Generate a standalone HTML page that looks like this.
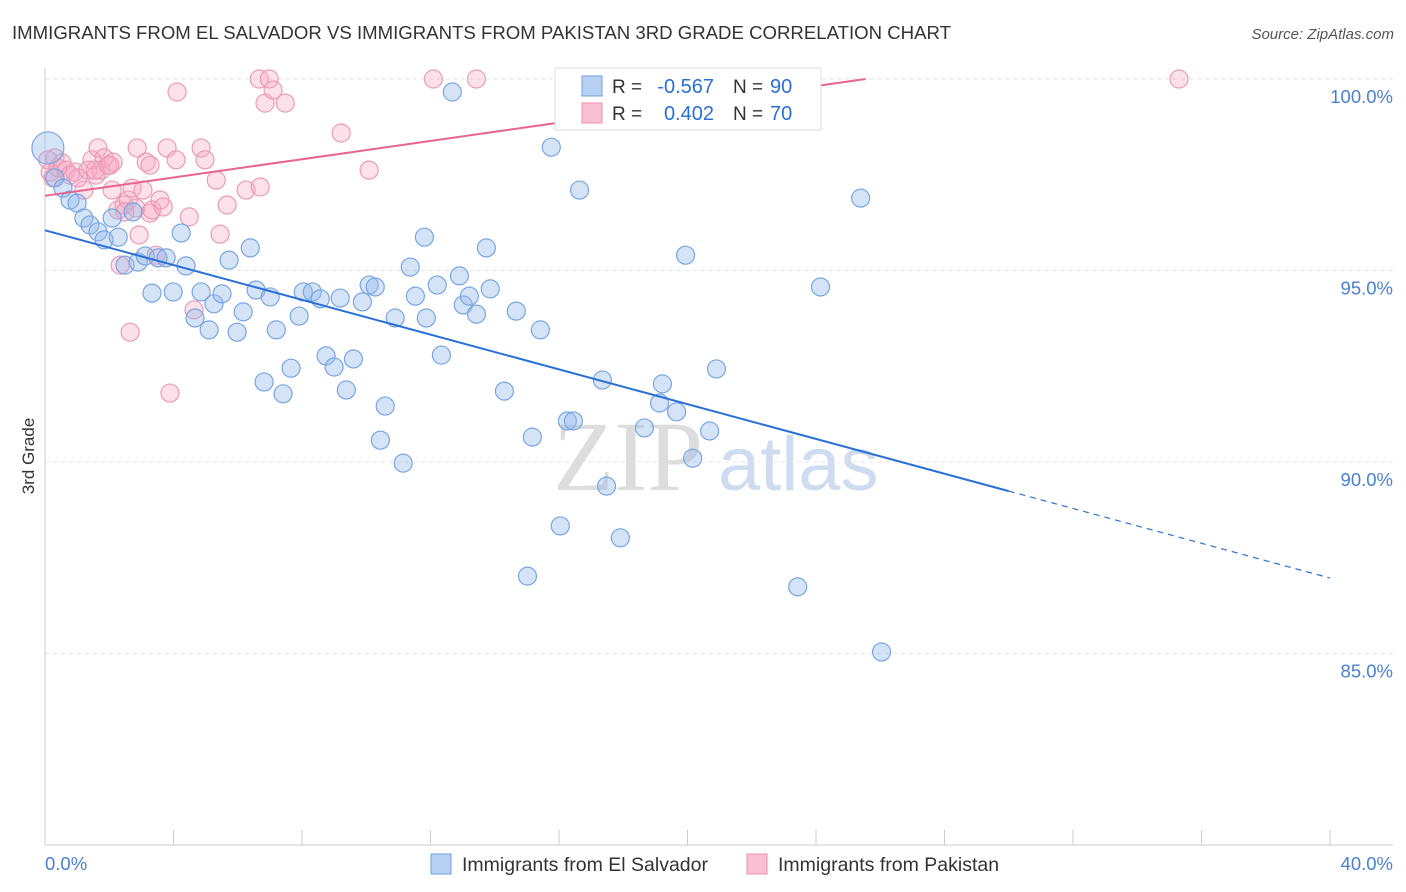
<!DOCTYPE html>
<html><head><meta charset="utf-8"><style>
body{margin:0;background:#fff;font-family:"Liberation Sans",sans-serif;}
svg{display:block}
</style></head><body>
<svg id="chart" width="1406" height="892" xmlns="http://www.w3.org/2000/svg">
<text x="12" y="39" font-size="18.5" fill="#333" textLength="939" lengthAdjust="spacingAndGlyphs">IMMIGRANTS FROM EL SALVADOR VS IMMIGRANTS FROM PAKISTAN 3RD GRADE CORRELATION CHART</text>
<text x="1394" y="39" font-size="15" fill="#555" text-anchor="end" font-style="italic">Source: ZipAtlas.com</text>
<text x="553" y="490" font-size="100" fill="#ddd" font-family="Liberation Serif">ZIP</text>
<text x="718" y="490" font-size="76" fill="#cfdcf0">atlas</text>
<g id="grid"></g><g id="axes"></g><g id="pts"></g><g id="lines"></g>
<text transform="translate(34,456) rotate(-90)" font-size="17" fill="#333" text-anchor="middle">3rd Grade</text>
<g>
<rect x="555" y="68" width="266" height="62" fill="#fff" stroke="#ddd"/>
<rect x="582" y="76" width="20" height="20" fill="#b8d0f4" stroke="#6fa0e0"/>
<rect x="582" y="103" width="20" height="20" fill="#f8c0d2" stroke="#e890b0"/>
<text x="612" y="93" font-size="19" fill="#333">R =</text>
<text x="714" y="93" font-size="20" fill="#2a6fd6" text-anchor="end">-0.567</text>
<text x="733" y="93" font-size="19" fill="#333">N =</text>
<text x="770" y="93" font-size="20" fill="#2a6fd6">90</text>
<text x="612" y="120" font-size="19" fill="#333">R =</text>
<text x="714" y="120" font-size="20" fill="#2a6fd6" text-anchor="end">0.402</text>
<text x="733" y="120" font-size="19" fill="#333">N =</text>
<text x="770" y="120" font-size="20" fill="#2a6fd6">70</text>
</g>
<g>
<rect x="431" y="854" width="20" height="20" fill="#b8d0f4" stroke="#6fa0e0"/>
<text x="462" y="871" font-size="19.5" fill="#333">Immigrants from El Salvador</text>
<rect x="747" y="854" width="20" height="20" fill="#f8c0d2" stroke="#e890b0"/>
<text x="778" y="871" font-size="19.5" fill="#333">Immigrants from Pakistan</text>
</g>
</svg>
<script>
const blueX=[0.09,0.31,0.56,0.78,1.00,1.21,1.40,1.65,1.84,2.09,2.28,2.49,2.74,2.90,3.12,3.33,3.52,3.77,3.99,4.24,4.39,4.67,4.86,5.11,5.26,5.51,5.73,5.98,6.17,6.39,6.57,6.82,7.01,7.20,7.41,7.66,7.91,8.04,8.32,8.57,8.75,9.00,9.19,9.38,9.60,9.88,10.09,10.28,10.44,10.59,10.90,11.15,11.37,11.53,11.81,11.87,12.21,12.34,12.68,12.90,13.02,13.21,13.43,13.74,13.86,14.30,14.67,15.02,15.17,15.42,15.76,16.04,16.26,16.45,16.64,17.35,17.48,17.91,18.66,19.13,19.22,19.66,19.94,20.16,20.69,20.90,23.43,24.14,25.39,26.04];
const blueY=[98.20,97.42,97.15,96.84,96.76,96.37,96.19,96.01,95.80,96.37,95.87,95.14,96.53,95.22,95.38,94.41,95.33,95.33,94.44,95.98,95.12,93.76,94.44,93.45,94.13,94.39,95.27,93.39,93.92,95.59,94.49,92.09,94.31,93.45,91.78,92.45,93.81,94.44,94.44,94.26,92.77,92.48,94.28,91.88,92.69,94.18,94.62,94.57,90.57,91.46,93.76,89.97,95.09,94.33,95.87,93.76,94.62,92.79,99.66,94.86,94.10,94.33,93.86,95.59,94.52,91.85,93.94,87.02,90.65,93.45,98.22,88.33,91.07,91.07,97.10,92.14,89.37,88.02,90.89,91.54,92.04,91.31,95.40,90.10,90.81,92.43,86.74,94.57,96.89,85.04];
const pinkX=[0.09,0.16,0.25,0.31,0.40,0.53,0.65,0.78,0.93,1.03,1.21,1.34,1.46,1.59,1.65,1.74,1.84,1.96,2.09,2.12,2.27,2.34,2.46,2.59,2.71,2.83,2.87,2.93,3.05,3.15,3.27,3.33,3.46,3.58,3.68,3.80,3.89,4.08,4.11,4.49,4.64,4.86,4.98,5.33,5.45,5.67,6.26,6.67,6.70,6.85,6.98,7.10,7.48,9.22,10.09,12.09,13.43,16.36,35.30,2.65,2.49,2.02,1.56,3.27];
const pinkY=[97.89,97.57,97.42,97.94,97.68,97.81,97.62,97.49,97.57,97.42,97.10,97.62,97.89,97.49,98.20,97.62,97.94,97.75,97.10,97.83,96.58,95.14,96.71,96.84,97.15,96.63,98.20,95.93,97.10,97.83,96.50,96.58,95.40,96.84,96.66,98.20,91.80,97.89,99.66,96.40,93.97,98.20,97.89,97.36,95.95,96.71,97.10,100,97.18,99.37,100,99.71,99.37,98.59,97.62,100,100,100,100,93.39,96.53,97.75,97.62,97.75];
const blueTrend=[96.05,-0.227];
const pinkTrend=[96.95,0.1194];
const xTicks=[0,4,8,12,16,20,24,28,32,36,40];
const yTicks=[100,95,90,85];
const yTickLabels=["100.0%","95.0%","90.0%","85.0%"];
const xs=v=>45+v*32.125, ys=v=>79+(100-v)*38.3;
const NS="http://www.w3.org/2000/svg";
function mk(p,t,a){const e=document.createElementNS(NS,t);for(const k in a)e.setAttribute(k,a[k]);p.appendChild(e);return e;}
const G=document.getElementById('grid'),A=document.getElementById('axes'),P=document.getElementById('pts'),L=document.getElementById('lines');
yTicks.forEach((v,i)=>{
 const l=mk(G,'line',{x1:45,x2:1393,y1:ys(v),y2:ys(v),stroke:'#e4e4e4','stroke-dasharray':'4,4'});
 
 
 const t=mk(A,'text',{x:1393,y:ys(v)+24,'font-size':18.5,fill:'#4a7fd0','text-anchor':'end'});t.textContent=yTickLabels[i];
 
 
});
let ax=mk(A,'line',{x1:45,x2:1393,y1:845,y2:845,stroke:'#ccc'});


let ay=mk(A,'line',{x1:45,x2:45,y1:68,y2:845,stroke:'#ccc'});


xTicks.forEach(v=>{const t=mk(A,'line',{x1:xs(v),x2:xs(v),y1:830,y2:845,stroke:'#ccc'});
 
 });
let t0=mk(A,'text',{x:45,y:870,'font-size':18.5,fill:'#4a7fd0'});t0.textContent='0.0%';


let t1=mk(A,'text',{x:1393,y:870,'font-size':18.5,fill:'#4a7fd0','text-anchor':'end'});t1.textContent='40.0%';


pinkX.forEach((x,i)=>{const c=mk(P,'circle',{cx:xs(x),cy:ys(pinkY[i]),r:9,fill:'rgba(245,170,195,0.35)',stroke:'#eb9ab8','stroke-width':1.2});
 
 });
blueX.forEach((x,i)=>{const c=mk(P,'circle',{cx:xs(x),cy:ys(blueY[i]),r:i==0?16:9,fill:'rgba(150,185,235,0.4)',stroke:'#78a6e3','stroke-width':1.2});
 
 });
const bf=x=>blueTrend[0]+blueTrend[1]*x, pf=x=>pinkTrend[0]+pinkTrend[1]*x;
let b1=mk(L,'line',{x1:xs(0),y1:ys(bf(0)),x2:xs(30),y2:ys(bf(30)),stroke:'#2a6fd6','stroke-width':2});


let b2=mk(L,'line',{x1:xs(30),y1:ys(bf(30)),x2:xs(40),y2:ys(bf(40)),stroke:'#2a6fd6','stroke-width':1.2,'stroke-dasharray':'6,5'});


const pe=(100-pinkTrend[0])/pinkTrend[1];
let p1=mk(L,'line',{x1:xs(0),y1:ys(pf(0)),x2:xs(pe),y2:ys(pf(pe)),stroke:'#e8648f','stroke-width':2});


</script>
</body></html>
